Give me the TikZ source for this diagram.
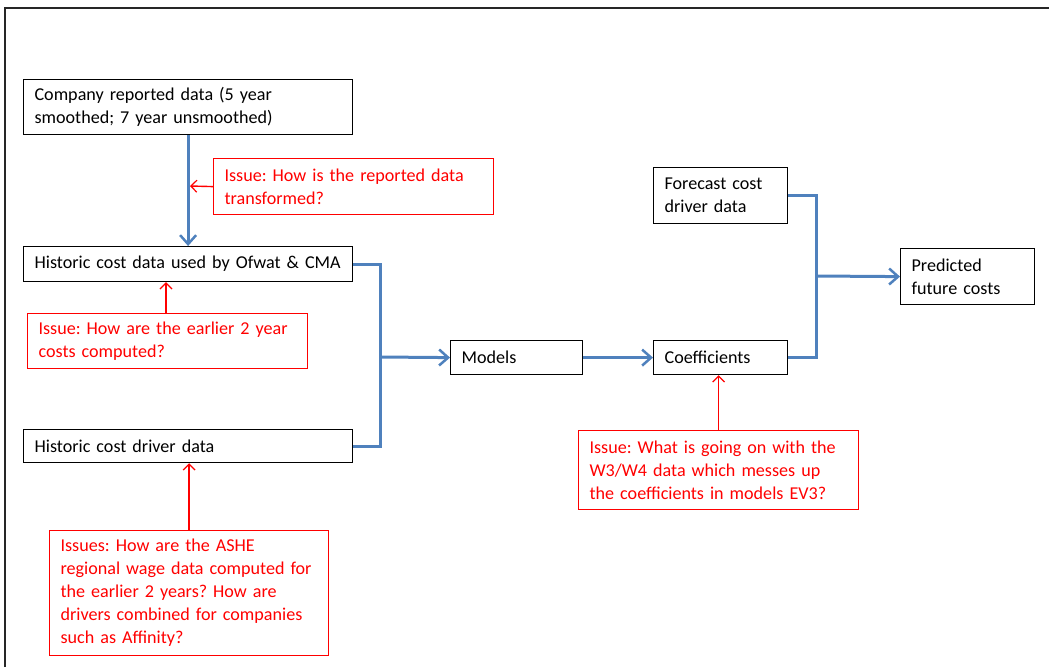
\documentclass[tikz,border=0pt]{standalone}
\usepackage{fontspec}
\setmainfont{Carlito}
\usetikzlibrary{arrows.meta}
\definecolor{obl}{RGB}{79,129,189}
\definecolor{ired}{RGB}{255,0,0}
\frenchspacing
\begin{document}
\begin{tikzpicture}[x=1pt,y=-1pt,
  box/.style={draw=black, line width=1.2pt, anchor=north west, inner xsep=11pt, inner ysep=0pt, align=left, font=\fontsize{18.1}{23}\selectfont},
  issue/.style={box, draw=ired, text=ired},
  flow/.style={draw=obl, line width=3pt},
  flowarr/.style={flow, -{Straight Barb[length=9pt,width=16pt,line width=2.5pt]}},
  issuearr/.style={draw=ired, line width=1.4pt, -{Straight Barb[length=6pt,width=12pt,line width=1.2pt]}},
]
\useasboundingbox (0,0) rectangle (1049,667);
\draw[line width=1.5pt, black!85] (5,667) -- (5,8) -- (1049,8);

\node[box, text width=307pt, minimum height=55pt] (company) at (23,79) {Company reported data (5 year\\smoothed; 7 year unsmoothed)};
\node[box, text width=307pt, minimum height=35pt] (hist) at (23,246) {Historic cost data used by Ofwat \& CMA};
\node[box, text width=307pt, minimum height=33pt] (driver) at (23,429) {Historic cost driver data};
\node[box, text width=110pt, minimum height=34pt] (models) at (450,340) {Models};
\node[box, text width=112pt, minimum height=34pt] (coef) at (653,340) {Coefficients};
\node[box, text width=112pt, minimum height=56pt] (forecast) at (653,167) {Forecast cost\\driver data};
\node[box, text width=112pt, minimum height=56pt] (pred) at (900,248) {Predicted\\future costs};

\node[issue, text width=258pt, minimum height=56pt] (issue1) at (213,158) {Issue: How is the reported data\\transformed?};
\node[issue, text width=258pt, minimum height=55pt] (issue2) at (27,313) {Issue: How are the earlier 2 year\\costs computed?};
\node[issue, text width=257pt, minimum height=125pt] (issue3) at (49,530) {Issues: How are the ASHE\\regional wage data computed for\\the earlier 2 years? How are\\drivers combined for companies\\such as Affinity?};
\node[issue, text width=258pt, minimum height=79pt] (issue4) at (578,430) {Issue: What is going on with the\\W3/W4 data which messes up\\the coefficients in models EV3?};

\coordinate (i1end) at (190,186);
\coordinate (i2x) at (166,0);
\coordinate (j1) at (380,357);
\coordinate (j2) at (816,276);

\draw[flowarr] (company.south) -- (hist.north);
\draw[flow] (hist.east) -| (j1);
\draw[flow] (driver.east) -| (j1);
\draw[flowarr] (j1) -- (models.west);
\draw[flowarr] (models.east) -- (coef.west);
\draw[flow] (forecast.east) -| (j2);
\draw[flow] (coef.east) -| (j2);
\draw[flowarr] (j2) -- (pred.west);

\draw[issuearr] (issue1.west) -- (i1end);
\draw[issuearr] (issue2.north -| i2x) -- (hist.south -| i2x);
\draw[issuearr] (issue3.north) -- (driver.south -| issue3.north);
\draw[issuearr] (issue4.north) -- (coef.south -| issue4.north);
\end{tikzpicture}
\end{document}
